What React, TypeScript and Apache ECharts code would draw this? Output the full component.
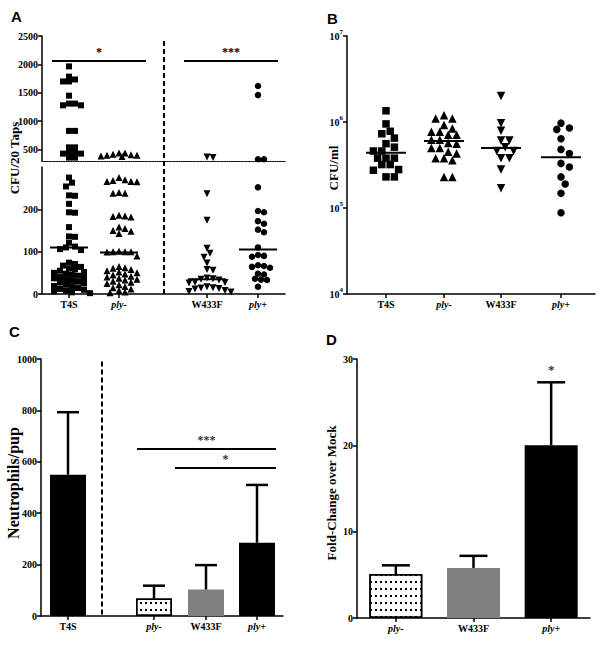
import React, { useEffect, useRef } from 'react';
import * as echarts from 'echarts';

// ---------------- Panel A: CFU / 20 taps (broken axis) ----------------
const groupsA = ['T4S', 'ply-', 'W433F', 'ply+'];
const t4sA = [1965, 1785, 1700, 1700, 1735, 1450, 1310, 1280, 1280, 1310, 830, 830, 540, 540, 450, 430, 430, 450, 360, 360,
  275, 263, 254, 233, 232, 213, 193, 192, 158, 136, 135, 121, 112, 110, 106, 104,
  74, 71, 67, 64, 60, 58, 55, 52, 50, 48, 45, 43, 40, 38, 37, 35, 31, 29, 27, 25, 22, 19, 17, 14, 12, 10, 8, 6, 4, 2];
const plyMinusA = [440, 420, 400, 390, 400, 410, 440, 380,
  275, 270, 268, 266, 266, 265, 240, 238, 238, 186, 184, 183, 182, 158, 155, 150, 148, 143, 100, 100, 99, 101, 100, 90,
  65, 62, 61, 58, 55, 52, 50, 47, 45, 42, 40, 37, 35, 33, 30, 28, 25, 22, 18, 15, 12, 8, 5, 3];
const w433fA = [370, 360, 237, 174, 108, 96, 87, 73, 58, 56, 38, 36, 35, 33, 28, 27, 26, 17, 15, 14, 13, 12, 8, 6, 5];
const plyPlusA = [1620, 1460, 330, 330, 252, 196, 193, 172, 166, 152, 146, 110, 92, 90, 88, 68, 66, 64, 62, 48, 46, 36, 34, 33, 17];
const mediansA = [110, 98, 35, 105];
const yTicksAUpper = [500, 1000, 1500, 2000, 2500];
const yTicksALower = [0, 100, 200];
const breakA = 300;

// ---------------- Panel B: CFU / ml (log) ----------------
const groupsB = ['T4S', 'ply-', 'W433F', 'ply+'];
const t4sB = [1.35e6, 9.5e5, 7.8e5, 7.3e5, 6.5e5, 5.6e5, 5.1e5, 4.6e5, 4.6e5, 3.8e5, 3.8e5, 3.8e5, 3.2e5, 3.2e5, 2.8e5, 2.75e5, 2.3e5, 2.3e5];
const plyMinusB = [1.2e6, 1.1e6, 1.1e6, 9.2e5, 8.4e5, 7.7e5, 7.7e5, 7.1e5, 7.1e5, 6.2e5, 6.2e5, 5.7e5, 5.6e5, 5.0e5, 5.0e5, 4.5e5, 4.3e5, 3.8e5, 3.8e5, 3.6e5, 2.3e5, 2.3e5];
const w433fB = [2.0e6, 9.7e5, 7.9e5, 6.1e5, 6.1e5, 5.1e5, 4.6e5, 4.6e5, 3.8e5, 3.8e5, 2.8e5, 1.7e5];
const plyPlusB = [9.7e5, 8.2e5, 8.5e5, 6.4e5, 4.8e5, 4.3e5, 3.3e5, 3.0e5, 2.3e5, 1.9e5, 1.48e5, 8.8e4];
const mediansB = [4.4e5, 6.0e5, 5.0e5, 3.9e5];

// ---------------- Panel C: Neutrophils / pup ----------------
const groupsC = ['T4S', 'ply-', 'W433F', 'ply+'];
const meansC = [550, 68, 103, 285];
const errUpperC = [793, 118, 198, 510];

// ---------------- Panel D: Fold-change over mock ----------------
const groupsD = ['ply-', 'W433F', 'ply+'];
const meansD = [5.1, 5.8, 20.0];
const errUpperD = [6.1, 7.2, 27.3];
const sigD = ['', '', '*'];

// ---------------- layout (positions in axis units) ----------------
const posA = [27, 77, 165, 216];
const dividerA = 122;
const spanA = 243;
const posB = [39, 97, 154, 214];
const spanB = 248;
const posC = [27, 113, 165, 216];
const dividerC = 61;
const spanC = 242;

const FONT = 'Liberation Serif';
const SANS = 'Liberation Sans';

function swarm(values: number[], toPx: (v: number) => number, d: number, step: number): number[] {
  const placed: { x: number; y: number }[] = [];
  const out: number[] = new Array(values.length).fill(0);
  const order = values.map((_, i) => i).sort((a, b) => values[b] - values[a]);
  for (const i of order) {
    const y = toPx(values[i]);
    let k = 0;
    for (;;) {
      const off = k === 0 ? 0 : (k % 2 === 1 ? 1 : -1) * Math.ceil(k / 2) * step;
      const hit = placed.some((p) => (p.x - off) ** 2 + (p.y - y) ** 2 < d * d);
      if (!hit || k > 40) {
        placed.push({ x: off, y });
        out[i] = off;
        break;
      }
      k++;
    }
  }
  return out;
}

const shapes = ['rect', 'triangle', 'triangle', 'circle'];
const rotates = [0, 0, 180, 0];
const sizesA = [6, 7, 7, 6.5];
const sizesB = [7.5, 8.5, 8.5, 7.5];

const rich = {
  n: { fontFamily: FONT, fontWeight: 'bold', fontSize: 10, color: '#000' },
  i: { fontFamily: FONT, fontWeight: 'bold', fontStyle: 'italic', fontSize: 10, color: '#000' },
};
const nameFmt = (n: string) => (n.startsWith('ply') ? `{i|${n}}` : `{n|${n}}`);
const posFmt = (names: string[], pos: number[]) => (v: number) => {
  const i = pos.findIndex((p) => Math.abs(p - v) < 0.01);
  return i < 0 ? '' : nameFmt(names[i]);
};

const axisLine = { show: true, lineStyle: { color: '#000', width: 1.5 } };
const axisTick = { show: true, length: 4, lineStyle: { color: '#000', width: 1.5 } };
const yLabel = { fontFamily: FONT, fontWeight: 'bold', fontSize: 10, color: '#000', margin: 4, formatter: (v: number) => String(v) };
const xLabelBase = { fontFamily: FONT, fontWeight: 'bold', fontSize: 10, color: '#000', margin: 5, rich };

const dotted = {
  color: '#fff',
  borderColor: '#000',
  borderWidth: 1.5,
  decal: { symbol: 'rect', symbolSize: 1, color: '#000', dashArrayX: [1.5, 2.5], dashArrayY: [1.5, 5], rotation: 0 },
};
const gray = { color: '#808080' };
const black = { color: '#000' };
const barStylesC = [black, dotted, gray, black];
const barStylesD = [dotted, gray, black];

function errorBarSeries(xIdx: number, yIdx: number, data: any[], cap: number, labels?: string[]) {
  return {
    type: 'custom',
    xAxisIndex: xIdx,
    yAxisIndex: yIdx,
    z: 3,
    data,
    renderItem: (params: any, api: any) => {
      const x = api.value(0);
      const p0 = api.coord([x, api.value(1)]);
      const p1 = api.coord([x, api.value(2)]);
      const children: any[] = [
        { type: 'line', shape: { x1: p0[0], y1: p0[1], x2: p1[0], y2: p1[1] }, style: { stroke: '#000', lineWidth: 2.5 } },
        { type: 'line', shape: { x1: p1[0] - cap, y1: p1[1], x2: p1[0] + cap, y2: p1[1] }, style: { stroke: '#000', lineWidth: 2.5 } },
      ];
      const lab = labels ? labels[params.dataIndex] : '';
      if (lab) {
        children.push({
          type: 'text',
          x: p1[0],
          y: p1[1] - 6,
          style: { text: lab, fill: '#333', fontFamily: FONT, fontWeight: 'bold', fontSize: 13, textAlign: 'center', textVerticalAlign: 'bottom' },
        });
      }
      return { type: 'group', children };
    },
  };
}

function medianSeries(xIdx: number, yIdx: number, data: number[][], hw: number) {
  return {
    type: 'custom',
    xAxisIndex: xIdx,
    yAxisIndex: yIdx,
    z: 4,
    data,
    renderItem: (_p: any, api: any) => {
      const p = api.coord([api.value(0), api.value(1)]);
      return { type: 'line', shape: { x1: p[0] - hw, y1: p[1], x2: p[0] + hw, y2: p[1] }, style: { stroke: '#000', lineWidth: 2 } };
    },
  };
}

function sigLine(x1: number, x2: number, y: number, text: string) {
  return [
    { coord: [x1, y], label: { show: true, formatter: text } },
    { coord: [x2, y] },
  ];
}

export default function App() {
  const ref = useRef<HTMLDivElement>(null);
  useEffect(() => {
    if (!ref.current) return;
    const chart = echarts.init(ref.current, undefined, { renderer: 'svg' });

    const dataA = [t4sA, plyMinusA, w433fA, plyPlusA];
    const dataB = [t4sB, plyMinusB, w433fB, plyPlusB];
    const upPx = (v: number) => (v * 125) / 2200;
    const loPx = (v: number) => (v * 127) / 300;
    const bPx = (v: number) => 86 * Math.log10(v);

    const series: any[] = [];
    dataA.forEach((vals, g) => {
      const up = vals.filter((v) => v > breakA);
      const lo = vals.filter((v) => v <= breakA);
      const offU = swarm(up, upPx, 4.5, 3);
      const offL = swarm(lo, loPx, 5.5, 3);
      const base = {
        type: 'scatter', symbol: shapes[g], symbolRotate: rotates[g], symbolSize: sizesA[g],
        itemStyle: { color: '#000', opacity: 1 }, z: 5,
      };
      const upSeries: any = { ...base, name: groupsA[g], xAxisIndex: 0, yAxisIndex: 0, data: up.map((v, i) => [posA[g] + offU[i], v]) };
      if (g === 0) {
        upSeries.markLine = {
          silent: true,
          symbol: 'none',
          lineStyle: { color: '#000', width: 2, type: 'solid', opacity: 1 },
          label: { position: 'insideMiddleTop', distance: 3, color: '#000', fontFamily: FONT, fontWeight: 'bold', fontSize: 12 },
          data: [sigLine(10, 104, 2060, '*'), sigLine(142, 236, 2060, '***')],
        };
      }
      series.push(upSeries);
      series.push({ ...base, name: groupsA[g], xAxisIndex: 1, yAxisIndex: 1, data: lo.map((v, i) => [posA[g] + offL[i], v]) });
    });
    series.push(medianSeries(1, 1, mediansA.map((m, i) => [posA[i], m]), 19));

    dataB.forEach((vals, g) => {
      const off = swarm(vals, bPx, 7.5, 4.2);
      series.push({
        type: 'scatter', name: groupsB[g], symbol: shapes[g], symbolRotate: rotates[g], symbolSize: sizesB[g],
        itemStyle: { color: '#000', opacity: 1 }, xAxisIndex: 2, yAxisIndex: 2, z: 5,
        data: vals.map((v, i) => [posB[g] + off[i], v]),
      });
    });
    series.push(medianSeries(2, 2, mediansB.map((m, i) => [posB[i], m]), 20));

    series.push({
      type: 'bar', xAxisIndex: 3, yAxisIndex: 3, barWidth: 36, z: 2,
      data: meansC.map((m, i) => ({ value: [posC[i], m], itemStyle: barStylesC[i] })),
      markLine: {
        silent: true,
        symbol: 'none',
        lineStyle: { color: '#000', width: 2, type: 'solid', opacity: 1 },
        label: { position: 'insideMiddleTop', distance: 3, color: '#333', fontFamily: FONT, fontWeight: 'bold', fontSize: 12 },
        data: [sigLine(96, 235, 650, '***'), sigLine(134, 235, 575, '*')],
      },
    });
    series.push(errorBarSeries(3, 3, meansC.map((m, i) => [posC[i], m, errUpperC[i]]), 11));

    series.push({
      type: 'bar', xAxisIndex: 4, yAxisIndex: 4, barWidth: 53, z: 2,
      data: meansD.map((m, i) => ({ value: m, itemStyle: barStylesD[i] })),
    });
    series.push(errorBarSeries(4, 4, meansD.map((m, i) => [i, m, errUpperD[i]]), 14, sigD));

    const hidden = { show: false };
    const option: any = {
      animation: false,
      backgroundColor: '#fff',
      textStyle: { fontFamily: FONT },
      grid: [
        { left: 42, top: 36, width: 243, height: 125 },
        { left: 42, top: 167, width: 243, height: 127 },
        { left: 347, top: 36, width: 248, height: 258 },
        { left: 41, top: 359, width: 242, height: 257 },
        { left: 357, top: 359, width: 233, height: 259 },
      ],
      xAxis: [
        { gridIndex: 0, type: 'value', min: 0, max: spanA, axisLine: { show: true, lineStyle: { color: '#000', width: 1.2, type: 'dotted' } }, axisTick: hidden, axisLabel: hidden, splitLine: hidden },
        { gridIndex: 1, type: 'value', min: 0, max: spanA, axisLine, axisTick: { ...axisTick, customValues: posA }, axisLabel: { ...xLabelBase, customValues: posA, formatter: posFmt(groupsA, posA) }, splitLine: hidden },
        { gridIndex: 2, type: 'value', min: 0, max: spanB, axisLine, axisTick: { ...axisTick, customValues: posB }, axisLabel: { ...xLabelBase, customValues: posB, formatter: posFmt(groupsB, posB) }, splitLine: hidden },
        { gridIndex: 3, type: 'value', min: 0, max: spanC, axisLine, axisTick: { ...axisTick, customValues: posC }, axisLabel: { ...xLabelBase, customValues: posC, formatter: posFmt(groupsC, posC) }, splitLine: hidden },
        { gridIndex: 4, type: 'category', data: groupsD, axisLine, axisTick: { ...axisTick, alignWithLabel: true }, axisLabel: { ...xLabelBase, formatter: (v: string) => nameFmt(v) } },
      ],
      yAxis: [
        { gridIndex: 0, type: 'value', min: breakA, max: 2500, axisLine, axisTick: { ...axisTick, customValues: yTicksAUpper }, axisLabel: { ...yLabel, customValues: yTicksAUpper }, splitLine: hidden },
        { gridIndex: 1, type: 'value', min: 0, max: 300, interval: 100, axisLine, axisTick: { ...axisTick, customValues: yTicksALower }, axisLabel: { ...yLabel, customValues: yTicksALower }, splitLine: hidden },
        {
          gridIndex: 2, type: 'log', logBase: 10, min: 1e4, max: 1e7, axisLine, axisTick, splitLine: hidden,
          axisLabel: {
            margin: 4,
            fontFamily: FONT,
            fontWeight: 'bold',
            formatter: (v: number) => `{b|10}{e|${Math.round(Math.log10(v))}}`,
            rich: {
              b: { fontFamily: FONT, fontWeight: 'bold', fontSize: 10, color: '#000' },
              e: { fontFamily: FONT, fontWeight: 'bold', fontSize: 7, color: '#000', padding: [0, 0, 8, 0] },
            },
          },
        },
        { gridIndex: 3, type: 'value', min: 0, max: 1000, interval: 200, axisLine, axisTick, axisLabel: yLabel, splitLine: hidden },
        { gridIndex: 4, type: 'value', min: 0, max: 30, interval: 10, axisLine, axisTick, axisLabel: yLabel, splitLine: hidden },
      ],
      series,
    };
    chart.setOption(option);

    const title = (text: string, x: number, y: number, size: number) => ({
      type: 'text', x, y, rotation: Math.PI / 2,
      style: { text, fill: '#000', fontFamily: FONT, fontWeight: 'bold', fontSize: size, textAlign: 'center', textVerticalAlign: 'middle' },
    });
    const letter = (text: string, x: number, y: number) => ({
      type: 'text', x, y, style: { text, fill: '#000', fontFamily: SANS, fontWeight: 'bold', fontSize: 15, textAlign: 'left', textVerticalAlign: 'top' },
    });
    const aTop = chart.convertToPixel({ xAxisIndex: 0, yAxisIndex: 0 } as any, [dividerA, 2410]) as number[];
    const aBot = chart.convertToPixel({ xAxisIndex: 1, yAxisIndex: 1 } as any, [dividerA, 0]) as number[];
    const cTop = chart.convertToPixel({ xAxisIndex: 3, yAxisIndex: 3 } as any, [dividerC, 990]) as number[];
    const cBot = chart.convertToPixel({ xAxisIndex: 3, yAxisIndex: 3 } as any, [dividerC, 0]) as number[];
    const dash = (p: number[], q: number[]) => ({
      type: 'line', z: 10, shape: { x1: p[0], y1: p[1], x2: q[0], y2: q[1] },
      style: { stroke: '#000', lineWidth: 2, lineDash: [5, 3] },
    });

    chart.setOption({
      graphic: [
        letter('A', 11, 9),
        letter('B', 327, 11),
        letter('C', 9, 324),
        letter('D', 326, 332),
        title('CFU/20 Taps', 14, 158, 13),
        title('CFU/ml', 333, 168, 13),
        title('Neutrophils/pup', 13, 483, 16),
        title('Fold-Change over Mock', 331, 493, 13),
        dash(aTop, aBot),
        dash(cTop, cBot),
      ],
    });

    return () => chart.dispose();
  }, []);

  return (
    <div
      ref={ref}
      style={{ position: 'absolute', left: 0, top: 0, width: 604, height: 646, background: '#fff' }}
    />
  );
}
